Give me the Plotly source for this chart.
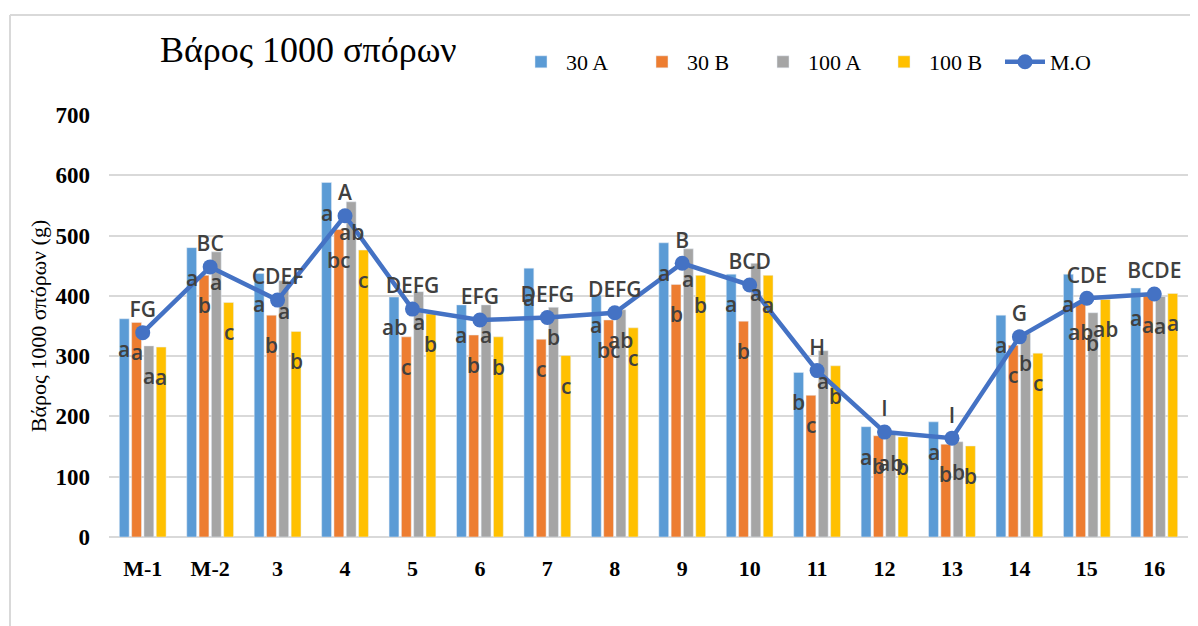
import plotly.graph_objects as go

categories = ["M-1", "M-2", "3", "4", "5", "6", "7", "8", "9", "10", "11", "12", "13", "14", "15", "16"]

val_30A = [362, 480, 437, 588, 398, 385, 446, 401, 488, 436, 273, 183, 191, 368, 436, 413]
val_30B = [356, 434, 368, 510, 332, 335, 328, 360, 419, 358, 235, 168, 154, 318, 390, 402]
val_100A = [317, 473, 425, 556, 407, 385, 381, 377, 478, 454, 309, 172, 158, 338, 372, 399]
val_100B = [315, 389, 341, 476, 370, 332, 301, 347, 434, 434, 284, 166, 151, 305, 394, 404]
val_MO = [339, 448, 393, 533, 378, 360, 364, 372, 454, 418, 276, 174, 164, 332, 396, 403]

lab_30A = ["a", "a", "a", "a", "ab", "a", "a", "a", "a", "a", "b", "a", "a", "a", "a", "a"]
lab_30B = ["a", "b", "b", "bc", "c", "b", "c", "bc", "b", "b", "c", "b", "b", "c", "ab", "a"]
lab_100A = ["a", "a", "a", "ab", "a", "a", "b", "ab", "a", "a", "a", "ab", "b", "b", "b", "a"]
lab_100B = ["a", "c", "b", "c", "b", "b", "c", "c", "b", "a", "b", "b", "b", "c", "ab", "a"]
lab_MO = ["FG", "BC", "CDEF", "A", "DEFG", "EFG", "DEFG", "DEFG", "B", "BCD", "H", "I", "I", "G", "CDE", "BCDE"]

series = [
    ("30 A", val_30A, lab_30A, "#5B9BD5"),
    ("30 B", val_30B, lab_30B, "#ED7D31"),
    ("100 A", val_100A, lab_100A, "#A5A5A5"),
    ("100 B", val_100B, lab_100B, "#FFC000"),
]

label_font = dict(family="Open Sans", size=21, color="#404040", weight=600)
serif = "Liberation Serif"

# layout geometry (page has an 8px body margin)
OFF = 8
W, H = 1198 - OFF, 626 - OFF
PL, PT = 109, 115          # plot area left/top in page pixels
plot_w, plot_h = 1079, 422
ML, MT = PL - OFF, PT - OFF
MR = W - ML - plot_w
MB = H - MT - plot_h
BARGAP, BARGROUPGAP = 0.27, 0.2
cat_w = plot_w / len(categories)
slot_w = cat_w * (1 - BARGAP) / len(series)

fig = go.Figure()
for name, vals, labs, col in series:
    fig.add_trace(go.Bar(x=categories, y=vals, name=name, marker_color=col))

fig.add_trace(go.Scatter(
    x=categories, y=val_MO, name="M.O", mode="lines+markers+text",
    line=dict(color="#4472C4", width=4.5),
    marker=dict(color="#4472C4", size=15),
    text=lab_MO, textposition="top center", textfont=label_font,
    cliponaxis=False,
))

annotations = []
for si, (name, vals, labs, col) in enumerate(series):
    xshift = (si - (len(series) - 1) / 2) * slot_w
    for ci, (v, t) in enumerate(zip(vals, labs)):
        annotations.append(dict(
            x=ci, y=v, text=t, showarrow=False, xshift=xshift, yshift=-30,
            font=label_font, xanchor="center", yanchor="middle",
        ))

fig.update_layout(
    width=W, height=H,
    paper_bgcolor="white", plot_bgcolor="white",
    barmode="group", bargap=BARGAP, bargroupgap=BARGROUPGAP,
    margin=dict(l=ML, r=MR, t=MT, b=MB, autoexpand=False),
    title=dict(text="Βάρος 1000 σπόρων", x=(160 - OFF) / W, xanchor="left",
               y=1 - (49 - OFF) / H, yanchor="middle",
               font=dict(family=serif, size=36, color="#000000")),
    legend=dict(orientation="h", x=(516 - PL) / plot_w, xanchor="left", y=(PT + plot_h - 62) / plot_h,
                yanchor="middle",
                font=dict(family=serif, size=22, color="#000000"),
                entrywidth=66, entrywidthmode="pixels",
                itemwidth=40, bgcolor="rgba(0,0,0,0)"),
    showlegend=True,
    annotations=annotations,
)

fig.update_yaxes(
    range=[0, 700], dtick=100, showgrid=True, gridcolor="#D9D9D9", gridwidth=2,
    zeroline=True, zerolinecolor="#D9D9D9", zerolinewidth=2, showline=False,
    tickfont=dict(family=serif, size=23, color="#000000", weight="bold"),
    ticklabelstandoff=18,
    title=dict(text="Βάρος 1000 σπόρων (g)", font=dict(family=serif, size=22, color="#000000"),
               standoff=2),
)
fig.update_xaxes(
    range=[-0.5, len(categories) - 0.5],
    showgrid=False, showline=False, ticks="",
    tickfont=dict(family=serif, size=22, color="#000000", weight="bold"),
    ticklabelstandoff=16,
)

# chart-area border (top and left edges visible)
bx0 = (10 - PL) / plot_w
by1 = (PT + plot_h - 15) / plot_h
fig.add_shape(type="line", xref="paper", yref="paper", x0=bx0, x1=(1198 + 5 - PL) / plot_w,
              y0=by1, y1=by1, line=dict(color="#D9D9D9", width=2), layer="below")
fig.add_shape(type="line", xref="paper", yref="paper", x0=bx0, x1=bx0,
              y0=-(626 + 5 - PT - plot_h) / plot_h, y1=by1,
              line=dict(color="#D9D9D9", width=2), layer="below")

fig.write_html("out.html")
